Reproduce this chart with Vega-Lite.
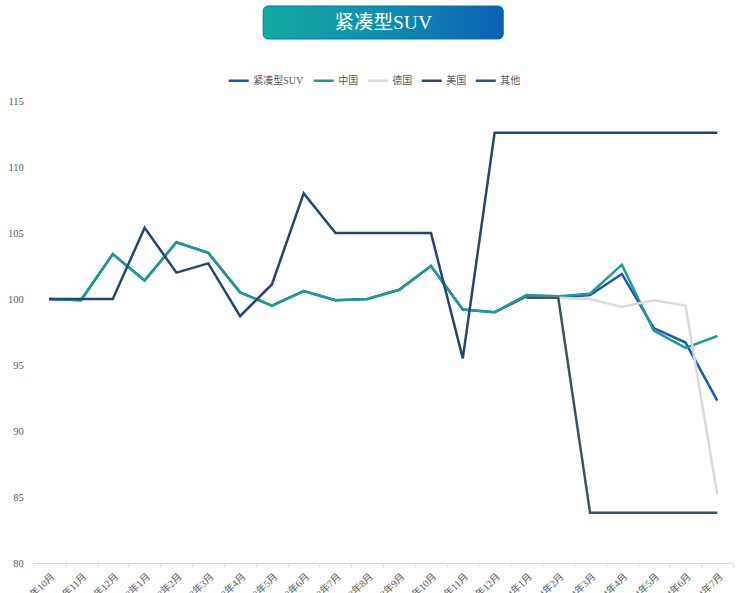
{
  "$schema": "https://vega.github.io/schema/vega-lite/v6.json",
  "background": "white",
  "padding": {"left": 7, "top": 5, "right": 5, "bottom": 0},
  "config": {
    "view": {"stroke": null},
    "font": "Liberation Serif, Noto Sans CJK SC",
    "concat": {"spacing": 29}
  },
  "center": true,
  "resolve": {"legend": {"color": "independent"}, "scale": {"color": "independent"}},
  "vconcat": [
    {
      "width": 240,
      "height": 33,
      "data": {"values": [{"t": "紧凑型SUV"}]},
      "layer": [
        {
          "mark": {
            "type": "rect",
            "cornerRadius": 5,
            "fill": {
              "x1": 0, "y1": 0, "x2": 1, "y2": 0,
              "gradient": "linear",
              "stops": [
                {"offset": 0, "color": "#14aba0"},
                {"offset": 0.5, "color": "#0f8fae"},
                {"offset": 1, "color": "#0c5fb4"}
              ]
            },
            "stroke": "#0b6fae",
            "strokeWidth": 1
          },
          "encoding": {}
        },
        {
          "mark": {
            "type": "text",
            "color": "white",
            "fontSize": 19.5,
            "font": "Liberation Serif, Noto Sans CJK SC",
            "baseline": "middle",
            "align": "center"
          },
          "encoding": {"text": {"field": "t"}}
        }
      ]
    },
    {
      "width": 700,
      "height": 462,
      "data": {
        "values": [
          {"month": "2022年10月", "series": "紧凑型SUV", "value": 100.0},
          {"month": "2022年11月", "series": "紧凑型SUV", "value": 99.9},
          {"month": "2022年12月", "series": "紧凑型SUV", "value": 103.4},
          {"month": "2023年1月", "series": "紧凑型SUV", "value": 101.4},
          {"month": "2023年2月", "series": "紧凑型SUV", "value": 104.3},
          {"month": "2023年3月", "series": "紧凑型SUV", "value": 103.5},
          {"month": "2023年4月", "series": "紧凑型SUV", "value": 100.5},
          {"month": "2023年5月", "series": "紧凑型SUV", "value": 99.5},
          {"month": "2023年6月", "series": "紧凑型SUV", "value": 100.6},
          {"month": "2023年7月", "series": "紧凑型SUV", "value": 99.9},
          {"month": "2023年8月", "series": "紧凑型SUV", "value": 100.0},
          {"month": "2023年9月", "series": "紧凑型SUV", "value": 100.7},
          {"month": "2023年10月", "series": "紧凑型SUV", "value": 102.5},
          {"month": "2023年11月", "series": "紧凑型SUV", "value": 99.2},
          {"month": "2023年12月", "series": "紧凑型SUV", "value": 99.0},
          {"month": "2024年1月", "series": "紧凑型SUV", "value": 100.2},
          {"month": "2024年2月", "series": "紧凑型SUV", "value": 100.1},
          {"month": "2024年3月", "series": "紧凑型SUV", "value": 100.3},
          {"month": "2024年4月", "series": "紧凑型SUV", "value": 101.9},
          {"month": "2024年5月", "series": "紧凑型SUV", "value": 97.8},
          {"month": "2024年6月", "series": "紧凑型SUV", "value": 96.7},
          {"month": "2024年7月", "series": "紧凑型SUV", "value": 92.3},

          {"month": "2022年10月", "series": "中国", "value": 100.0},
          {"month": "2022年11月", "series": "中国", "value": 99.9},
          {"month": "2022年12月", "series": "中国", "value": 103.4},
          {"month": "2023年1月", "series": "中国", "value": 101.4},
          {"month": "2023年2月", "series": "中国", "value": 104.3},
          {"month": "2023年3月", "series": "中国", "value": 103.5},
          {"month": "2023年4月", "series": "中国", "value": 100.5},
          {"month": "2023年5月", "series": "中国", "value": 99.5},
          {"month": "2023年6月", "series": "中国", "value": 100.6},
          {"month": "2023年7月", "series": "中国", "value": 99.9},
          {"month": "2023年8月", "series": "中国", "value": 100.0},
          {"month": "2023年9月", "series": "中国", "value": 100.7},
          {"month": "2023年10月", "series": "中国", "value": 102.5},
          {"month": "2023年11月", "series": "中国", "value": 99.2},
          {"month": "2023年12月", "series": "中国", "value": 99.0},
          {"month": "2024年1月", "series": "中国", "value": 100.3},
          {"month": "2024年2月", "series": "中国", "value": 100.2},
          {"month": "2024年3月", "series": "中国", "value": 100.4},
          {"month": "2024年4月", "series": "中国", "value": 102.6},
          {"month": "2024年5月", "series": "中国", "value": 97.6},
          {"month": "2024年6月", "series": "中国", "value": 96.3},
          {"month": "2024年7月", "series": "中国", "value": 97.2},

          {"month": "2024年1月", "series": "德国", "value": 100.1},
          {"month": "2024年2月", "series": "德国", "value": 100.1},
          {"month": "2024年3月", "series": "德国", "value": 100.0},
          {"month": "2024年4月", "series": "德国", "value": 99.4},
          {"month": "2024年5月", "series": "德国", "value": 99.9},
          {"month": "2024年6月", "series": "德国", "value": 99.5},
          {"month": "2024年7月", "series": "德国", "value": 85.2},

          {"month": "2022年10月", "series": "美国", "value": 100.0},
          {"month": "2022年11月", "series": "美国", "value": 100.0},
          {"month": "2022年12月", "series": "美国", "value": 100.0},
          {"month": "2023年1月", "series": "美国", "value": 105.4},
          {"month": "2023年2月", "series": "美国", "value": 102.0},
          {"month": "2023年3月", "series": "美国", "value": 102.7},
          {"month": "2023年4月", "series": "美国", "value": 98.7},
          {"month": "2023年5月", "series": "美国", "value": 101.1},
          {"month": "2023年6月", "series": "美国", "value": 108.0},
          {"month": "2023年7月", "series": "美国", "value": 105.0},
          {"month": "2023年8月", "series": "美国", "value": 105.0},
          {"month": "2023年9月", "series": "美国", "value": 105.0},
          {"month": "2023年10月", "series": "美国", "value": 105.0},
          {"month": "2023年11月", "series": "美国", "value": 95.5},
          {"month": "2023年12月", "series": "美国", "value": 112.6},
          {"month": "2024年1月", "series": "美国", "value": 112.6},
          {"month": "2024年2月", "series": "美国", "value": 112.6},
          {"month": "2024年3月", "series": "美国", "value": 112.6},
          {"month": "2024年4月", "series": "美国", "value": 112.6},
          {"month": "2024年5月", "series": "美国", "value": 112.6},
          {"month": "2024年6月", "series": "美国", "value": 112.6},
          {"month": "2024年7月", "series": "美国", "value": 112.6},

          {"month": "2024年1月", "series": "其他", "value": 100.1},
          {"month": "2024年2月", "series": "其他", "value": 100.1},
          {"month": "2024年3月", "series": "其他", "value": 83.8},
          {"month": "2024年4月", "series": "其他", "value": 83.8},
          {"month": "2024年5月", "series": "其他", "value": 83.8},
          {"month": "2024年6月", "series": "其他", "value": 83.8},
          {"month": "2024年7月", "series": "其他", "value": 83.8}
        ]
      },
      "mark": {"type": "line", "strokeWidth": 2.5, "strokeJoin": "miter"},
      "encoding": {
        "x": {
          "field": "month",
          "type": "ordinal",
          "sort": null,
          "bandPosition": 0.5,
          "scale": {"type": "band", "paddingInner": 0, "paddingOuter": 0},
          "axis": {
            "title": null,
            "labelAngle": -45,
            "labelFontSize": 10,
            "labelColor": "#595959",
            "labelPadding": 4,
            "domainColor": "#d9d9d9",
            "tickColor": "#d9d9d9",
            "tickSize": 4,
            "tickBand": "extent",
            "grid": false
          }
        },
        "y": {
          "field": "value",
          "type": "quantitative",
          "scale": {"domain": [80, 115], "nice": false, "zero": false},
          "axis": {
            "title": null,
            "values": [80, 85, 90, 95, 100, 105, 110, 115],
            "grid": false,
            "domain": false,
            "ticks": false,
            "labelFontSize": 10.5,
            "labelColor": "#595959",
            "labelPadding": 10
          }
        },
        "color": {
          "field": "series",
          "type": "nominal",
          "scale": {
            "domain": ["紧凑型SUV", "中国", "德国", "美国", "其他"],
            "range": ["#1f58a6", "#1f9a93", "#d9d9d9", "#25466e", "#3a5361"]
          },
          "legend": {
            "title": null,
            "orient": "none",
            "direction": "horizontal",
            "legendX": 194,
            "legendY": -32,
            "symbolType": "stroke",
            "symbolSize": 400,
            "symbolStrokeWidth": 2.5,
            "labelFontSize": 10,
            "labelColor": "#595959",
            "labelOffset": 3,
            "columnPadding": 4
          }
        }
      }
    }
  ]
}
